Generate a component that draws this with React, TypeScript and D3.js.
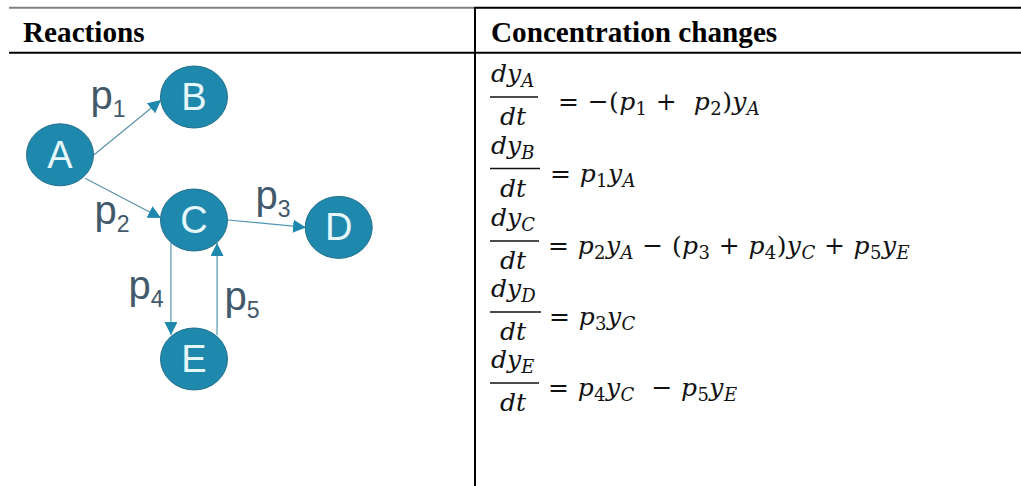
import React from "react";
import * as d3 from "d3";

const headers = ["Reactions", "Concentration changes"];

// diagram nodes, in grid units of the sketch
const nodeNames = ["A", "B", "C", "D", "E"];
const nodeCol = [0, 1, 1, 2.08, 1];
const nodeRow = [0.47, 0, 1, 1.06, 2.13];

// edges: where they start / end in grid units
const edgeFrom = [
  [0.254, 0.47],
  [0.187, 0.66],
  [1.254, 1.0],
  [0.828, 1.187],
  [1.172, 1.935],
];
const edgeTo = [
  [0.754, 0.025],
  [0.754, 0.984],
  [1.836, 1.06],
  [0.828, 1.935],
  [1.172, 1.187],
];
const edgeLabels = ["1", "2", "3", "4", "5"];
const edgeLabelCol = [0.227, 0.257, 1.459, 0.511, 1.227];
const edgeLabelRow = [0.1, 1.03, 0.911, 1.642, 1.73];

// right hand sides of the equations, "_" starts a subscript
const eqSubs = ["A", "B", "C", "D", "E"];
const eqRhs = [
  "= −(p_1 +\u00a0 p_2)y_A",
  "= p_1y_A",
  "= p_2y_A − (p_3 + p_4)y_C + p_5y_E",
  "= p_3y_C",
  "= p_4y_C\u00a0 − p_5y_E",
];
const eqBarY = [97, 168.5, 241, 312, 383];
const eqBarEnd = [538, 540, 539, 541, 539];
const eqRhsStart = [558, 550, 548, 549, 548];

const x = d3.scaleLinear().domain([0, 1]).range([60, 194]);
const y = d3.scaleLinear().domain([0, 1]).range([97, 220]);

const BLUE = "#1f88ad";
const INK = "#42586b";
const SERIF = "'Liberation Serif', serif";
const SANS = "'Liberation Sans', Arial, sans-serif";
const MATH = "'DejaVu Serif', serif";

// splits "p_1y_A" style strings into styled runs
function rhsRuns(rhs: string) {
  const runs: { t: string; sub: boolean }[] = [];
  let i = 0;
  let cur = "";
  while (i < rhs.length) {
    if (rhs[i] === "_") {
      if (cur) runs.push({ t: cur, sub: false });
      cur = "";
      runs.push({ t: rhs[i + 1], sub: true });
      i += 2;
    } else {
      cur += rhs[i];
      i += 1;
    }
  }
  if (cur) runs.push({ t: cur, sub: false });
  return runs;
}

export default function App() {
  const line = d3.line();
  return (
    <svg
      width={1021}
      height={486}
      viewBox="0 0 1021 486"
      style={{ position: "absolute", left: 0, top: 0, background: "#fff" }}
    >
      <defs>
        <marker id="arrow" viewBox="0 0 10 10" refX="10" refY="5" markerWidth="13" markerHeight="13" markerUnits="userSpaceOnUse" orient="auto">
          <path d="M0,0L10,5L0,10Z" fill={BLUE} />
        </marker>
      </defs>

      {/* table rules */}
      <line x1={9} x2={475} y1={7.7} y2={7.7} stroke="#808080" strokeWidth={2} />
      <line x1={475} x2={1021} y1={7.7} y2={7.7} stroke="#000" strokeWidth={2} />
      <line x1={9} x2={1021} y1={52.7} y2={52.7} stroke="#000" strokeWidth={2} />
      <line x1={475} x2={475} y1={7} y2={486} stroke="#000" strokeWidth={2} />

      <text x={23} y={42} fontFamily={SERIF} fontWeight="bold" fontSize={29.2}>{headers[0]}</text>
      <text x={491} y={42} fontFamily={SERIF} fontWeight="bold" fontSize={29.2}>{headers[1]}</text>

      {/* edges */}
      {edgeFrom.map((f, i) => (
        <path
          key={i}
          d={line([[x(f[0]), y(f[1])], [x(edgeTo[i][0]), y(edgeTo[i][1])]]) as string}
          stroke={i === 0 || i === 1 ? "#5b93ab" : "#4f97b5"}
          strokeWidth={1.2}
          fill="none"
          markerEnd="url(#arrow)"
        />
      ))}

      {/* nodes */}
      {nodeNames.map((n, i) => (
        <g key={n}>
          <ellipse cx={x(nodeCol[i])} cy={y(nodeRow[i])} rx={33.5} ry={31} fill={BLUE} stroke="#256f8c" strokeWidth={1} />
          <text x={x(nodeCol[i])} y={y(nodeRow[i]) + 13} textAnchor="middle" fontFamily={SANS} fontSize={38} fill="#e6f7fb">{n}</text>
        </g>
      ))}

      {/* edge labels */}
      {edgeLabels.map((l, i) => (
        <text key={l} x={x(edgeLabelCol[i])} y={y(edgeLabelRow[i])} fontFamily={SANS} fontSize={40} fill={INK}>
          p<tspan fontSize={23} dy={8}>{l}</tspan>
        </text>
      ))}

      {/* equations */}
      {eqSubs.map((s, i) => (
        <g key={s} fontFamily={MATH} fontSize={25} fill="#111">
          <text x={491} y={eqBarY[i] - 15} fontStyle="italic">
            dy<tspan fontSize={18} dy={5}>{s}</tspan>
          </text>
          <line x1={490} x2={eqBarEnd[i]} y1={eqBarY[i]} y2={eqBarY[i]} stroke="#111" strokeWidth={1.7} />
          <text x={500} y={eqBarY[i] + 28} fontStyle="italic">dt</text>
          <text x={eqRhsStart[i]} y={eqBarY[i] + 13} letterSpacing={0.4}>
            {rhsRuns(eqRhs[i]).map((r, j, all) => {
              const prevSub = j > 0 && all[j - 1].sub;
              const dy = r.sub ? (prevSub ? 0 : 5) : prevSub ? -5 : 0;
              return (
                <tspan
                  key={j}
                  dy={dy}
                  fontSize={r.sub ? 18 : 25}
                  fontStyle={r.sub && /[A-E]/.test(r.t) ? "italic" : "normal"}
                >
                  {r.sub ? r.t : r.t.split(/([py])/).map((c, k) => (
                    <tspan key={k} fontStyle={c === "p" || c === "y" ? "italic" : "normal"}>{c}</tspan>
                  ))}
                </tspan>
              );
            })}
          </text>
        </g>
      ))}
    </svg>
  );
}
